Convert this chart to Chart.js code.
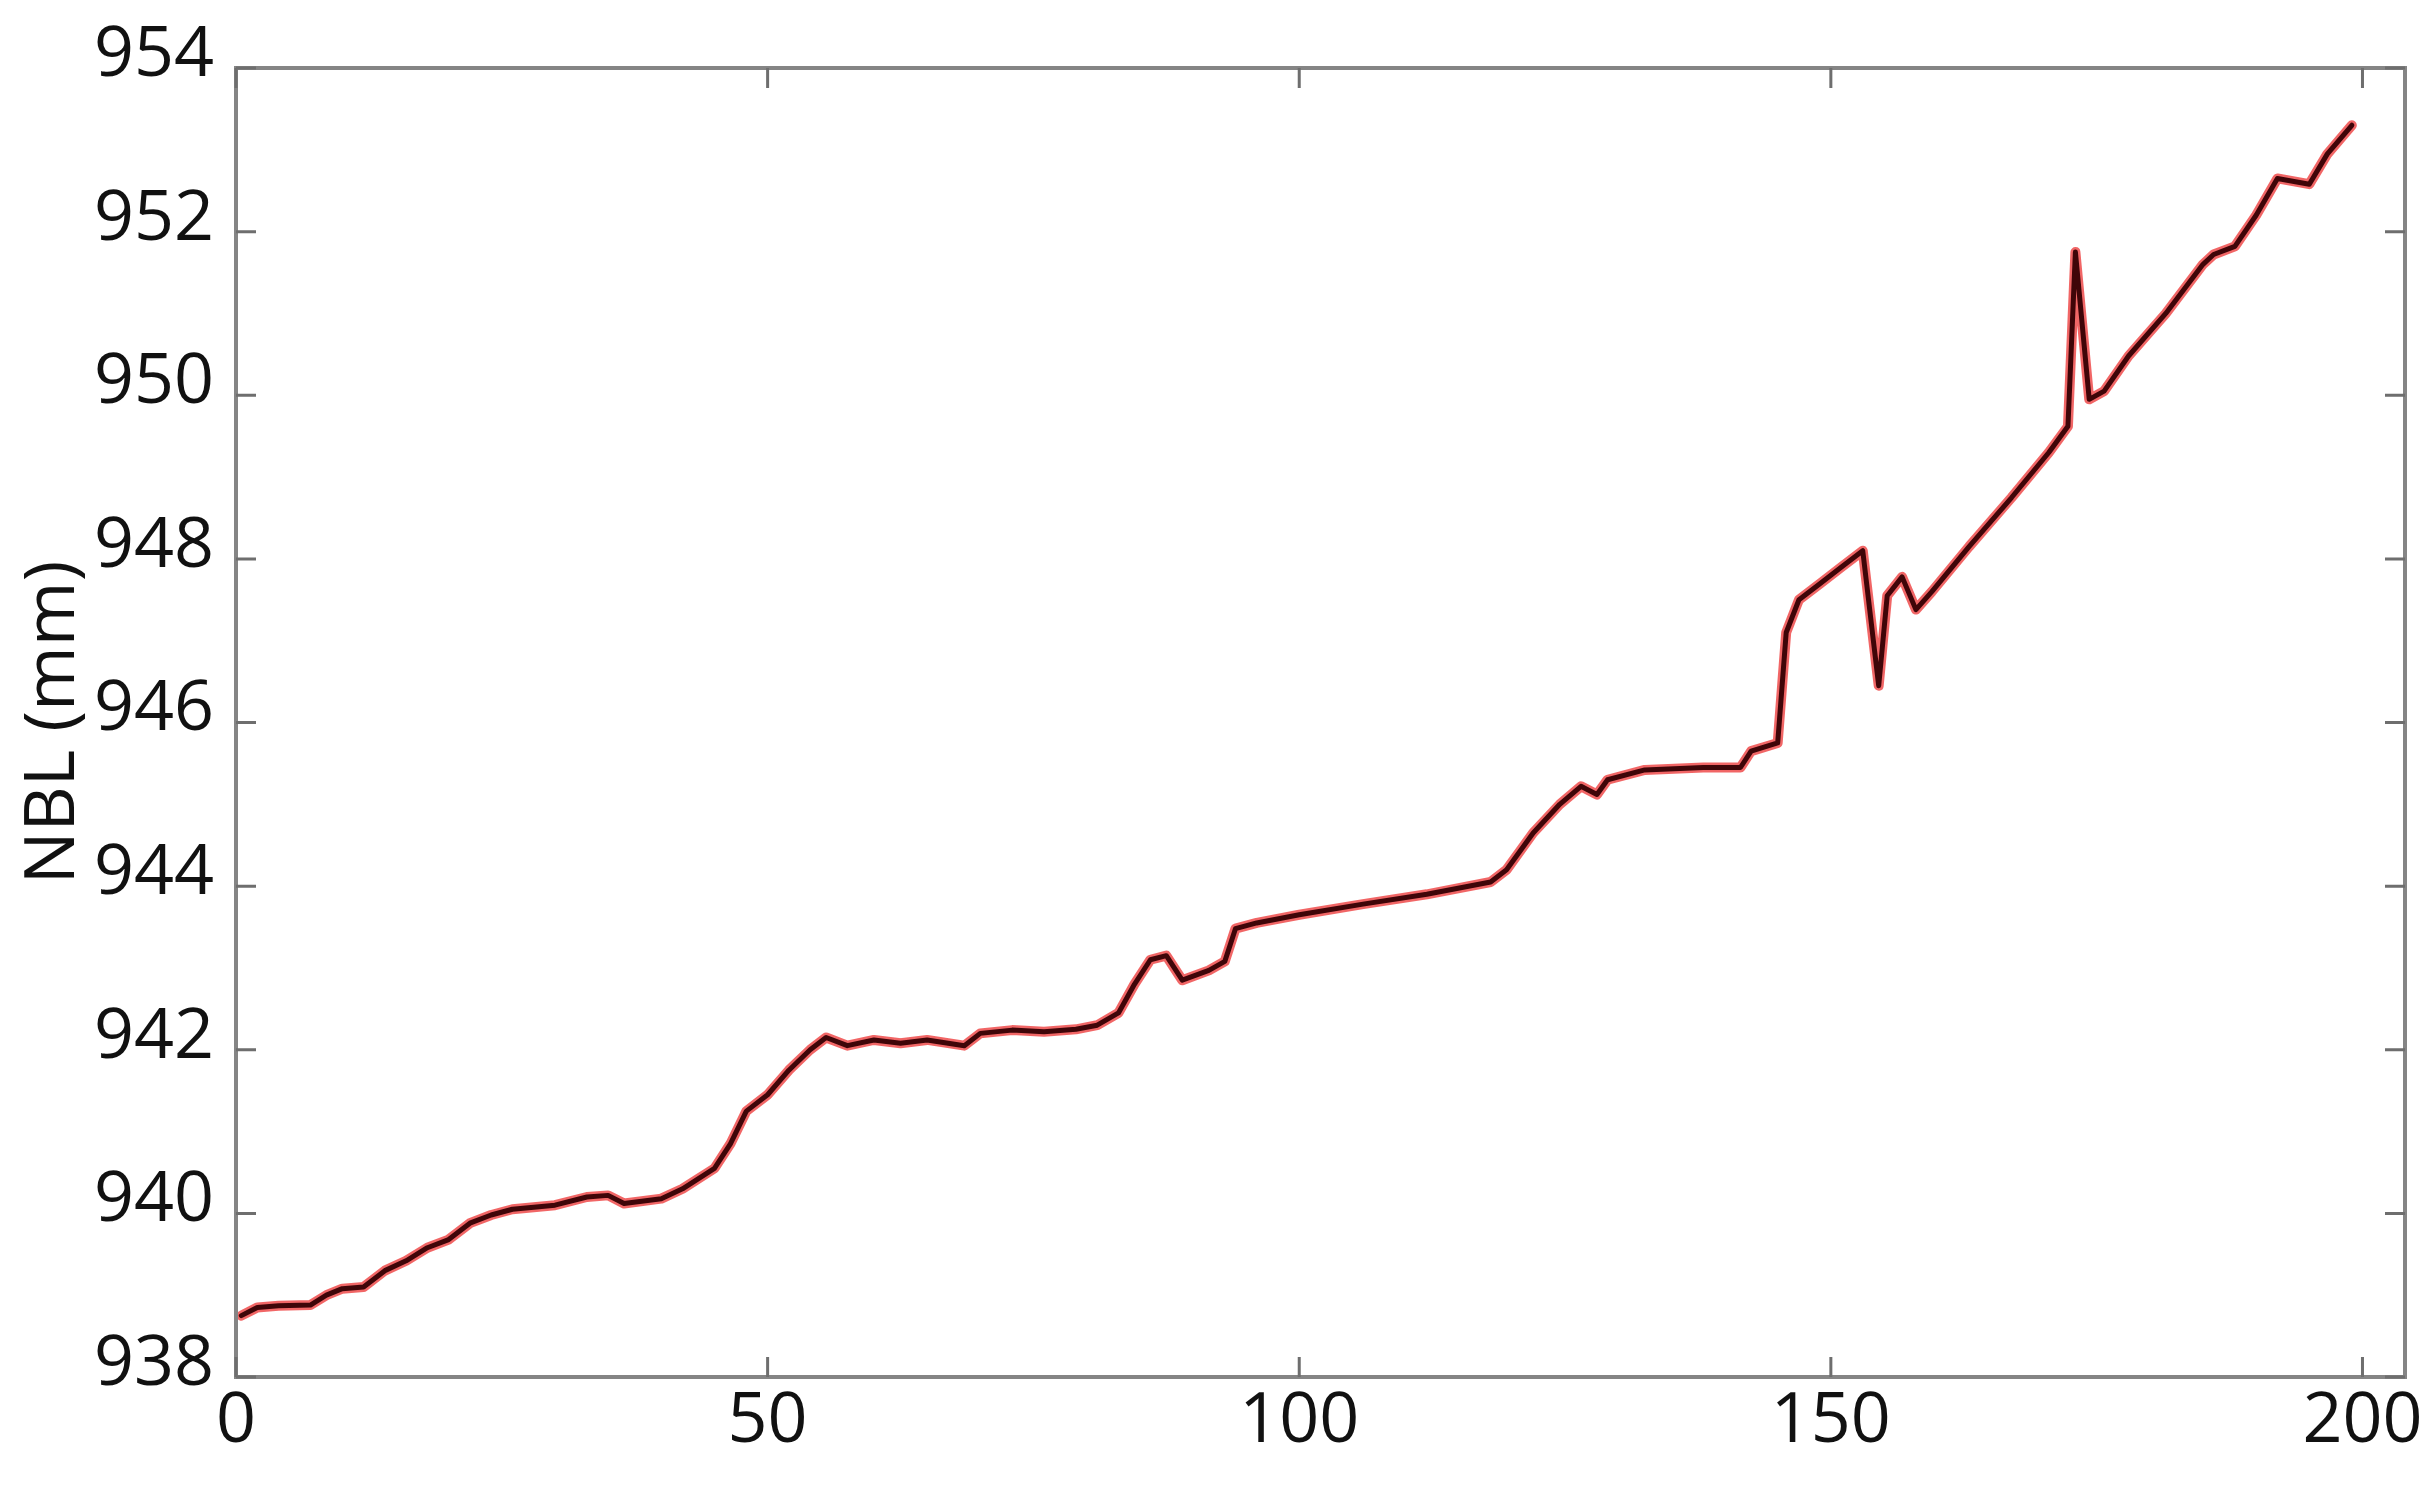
<!DOCTYPE html>
<html>
<head>
<meta charset="utf-8">
<script src="https://cdn.jsdelivr.net/npm/chart.js@4.4.1/dist/chart.umd.min.js"></script>
<style>
  html, body { margin: 0; padding: 0; background: #ffffff; }
  #wrap { width: 2432px; height: 1489px; position: relative; }
</style>
</head>
<body>
<div id="wrap"><canvas id="c" width="2432" height="1489"></canvas></div>
<script>
// Sample index (x) and NBL values
const sampleX = [0.5, 2, 4, 7, 8.5, 10, 12, 14, 16, 18, 20, 22, 24, 26, 30, 33, 35, 36.5, 40, 42,
  45, 46.5, 48, 50, 52, 54, 55.5, 57.5, 60, 62.5, 65, 68.5, 70, 73, 76, 79, 81, 83, 84.5, 86,
  87.5, 89, 91.5, 93, 94, 96, 100, 106, 112, 118, 119.5, 122, 124.5, 126.5, 128, 129, 132.5, 138, 141.5, 142.5,
  145, 145.8, 147, 149, 151, 153, 154.5, 155.3, 156.7, 158, 159.5, 163, 167, 170.5, 172.3, 173, 174.3, 175.7, 178, 181.5,
  185, 186, 188, 190, 192, 195, 196.7, 199];
const nblValues = [938.75, 938.85, 938.87, 938.88, 939.0, 939.08, 939.1, 939.3, 939.42, 939.58, 939.68, 939.88, 939.98, 940.05, 940.1, 940.2, 940.22, 940.12, 940.18, 940.3,
  940.55, 940.85, 941.25, 941.45, 941.75, 942.0, 942.15, 942.05, 942.12, 942.08, 942.12, 942.05, 942.2, 942.24, 942.22, 942.25, 942.3, 942.45, 942.8, 943.1,
  943.15, 942.85, 942.97, 943.08, 943.48, 943.55, 943.65, 943.78, 943.9, 944.05, 944.2, 944.65, 945.0, 945.22, 945.12, 945.3, 945.42, 945.45, 945.45, 945.65,
  945.75, 947.1, 947.5, 947.7, 947.9, 948.1, 946.45, 947.55, 947.78, 947.38, 947.6, 948.15, 948.75, 949.3, 949.62, 951.75, 949.95, 950.05, 950.48, 951.0,
  951.6, 951.72, 951.82, 952.2, 952.65, 952.58, 952.95, 953.3];
const xTickValues = [0, 50, 100, 150, 200];
const yTickValues = [938, 940, 942, 944, 946, 948, 950, 952, 954];
const yAxisTitle = 'NBL (mm)';

const points = sampleX.map((x, i) => ({ x: x, y: nblValues[i] }));

const FONT = "'Open Sans', 'Noto Sans', sans-serif";

const framePlugin = {
  id: 'frame',
  afterDatasetsDraw(chart) {
    const { ctx, chartArea: a, scales } = chart;
    ctx.save();
    ctx.strokeStyle = '#858585';
    ctx.lineWidth = 4;
    ctx.strokeRect(a.left, a.top, a.right - a.left, a.bottom - a.top);
    ctx.lineWidth = 3;
    ctx.strokeStyle = '#6e6e6e';
    const L = 20;
    xTickValues.forEach(v => {
      const px = scales.x.getPixelForValue(v);
      ctx.beginPath();
      ctx.moveTo(px, a.bottom); ctx.lineTo(px, a.bottom - L);
      ctx.moveTo(px, a.top); ctx.lineTo(px, a.top + L);
      ctx.stroke();
    });
    yTickValues.forEach(v => {
      const py = scales.y.getPixelForValue(v);
      ctx.beginPath();
      ctx.moveTo(a.left, py); ctx.lineTo(a.left + L, py);
      ctx.moveTo(a.right, py); ctx.lineTo(a.right - L, py);
      ctx.stroke();
    });
    ctx.restore();
  }
};

new Chart(document.getElementById('c'), {
  type: 'line',
  data: {
    datasets: [
      {
        label: 'NBL',
        data: points,
        borderColor: '#3f0508',
        borderWidth: 5,
        borderJoinStyle: 'round',
        borderCapStyle: 'round',
        pointRadius: 0,
        tension: 0,
        order: 0
      },
      {
        label: 'NBL halo',
        data: points,
        borderColor: 'rgba(232,0,0,0.6)',
        borderWidth: 10,
        borderJoinStyle: 'round',
        borderCapStyle: 'round',
        pointRadius: 0,
        tension: 0,
        order: 1
      }
    ]
  },
  plugins: [framePlugin],
  options: {
    responsive: false,
    animation: false,
    layout: { padding: { left: 0, top: 68, right: 27, bottom: 0 } },
    plugins: { legend: { display: false }, tooltip: { enabled: false } },
    scales: {
      x: {
        type: 'linear',
        min: 0,
        max: 204,
        afterBuildTicks: s => { s.ticks = xTickValues.map(v => ({ value: v })); },
        afterFit: s => { s.height = 112; s.paddingLeft = 0; s.paddingRight = 0; },
        grid: { display: false, drawTicks: false },
        border: { display: false },
        ticks: {
          color: '#111',
          font: { family: FONT, size: 70 },
          padding: 3,
          maxRotation: 0,
          autoSkip: false
        }
      },
      y: {
        type: 'linear',
        min: 938,
        max: 954,
        afterBuildTicks: s => { s.ticks = yTickValues.map(v => ({ value: v })); },
        afterFit: s => { s.width = 236; s.paddingTop = 0; s.paddingBottom = 0; },
        grid: { display: false, drawTicks: false },
        border: { display: false },
        title: {
          display: true,
          text: yAxisTitle,
          color: '#111',
          font: { family: FONT, size: 70 },
          padding: { top: 12, bottom: 0 }
        },
        ticks: {
          color: '#111',
          font: { family: FONT, size: 70 },
          padding: 22,
          labelOffset: -12,
          autoSkip: false
        }
      }
    }
  }
});
</script>
</body>
</html>
